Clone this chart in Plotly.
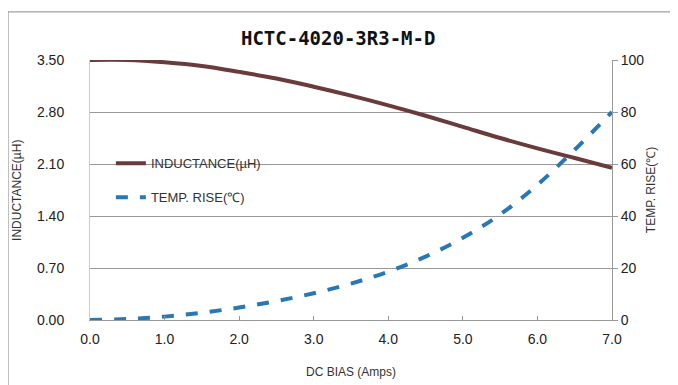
import plotly.graph_objects as go

dc_bias = [0.0, 0.5, 1.0, 1.5, 2.0, 2.5, 3.0, 3.5, 4.0, 4.5, 5.0, 5.5, 6.0, 6.5, 7.0]
inductance = [3.50, 3.50, 3.47, 3.42, 3.34, 3.25, 3.14, 3.02, 2.89, 2.75, 2.60, 2.45, 2.31, 2.18, 2.05]
temp_rise = [0.0, 0.4, 1.3, 2.8, 4.8, 7.3, 10.3, 14.0, 18.6, 24.4, 31.6, 40.6, 52.0, 65.5, 80.0]

y_left_ticks = [0.00, 0.70, 1.40, 2.10, 2.80, 3.50]
y_left_labels = ["0.00", "0.70", "1.40", "2.10", "2.80", "3.50"]
y_right_ticks = [0, 20, 40, 60, 80, 100]
x_ticks = [0, 1, 2, 3, 4, 5, 6, 7]
x_labels = ["0.0", "1.0", "2.0", "3.0", "4.0", "5.0", "6.0", "7.0"]

fig = go.Figure()
fig.add_trace(go.Scatter(x=dc_bias, y=inductance, name="INDUCTANCE(µH)", mode="lines",
                         legendgroup="a",
                         line=dict(color="#6a3b3b", width=4, shape="spline")))
fig.add_trace(go.Scatter(x=dc_bias, y=temp_rise, name="TEMP. RISE(℃)", mode="lines", yaxis="y2",
                         legendgroup="b",
                         line=dict(color="#2878b5", width=4, dash="dash", shape="spline")))

font_fam = "Liberation Sans Narrow, Arial Narrow, Liberation Sans, Arial"
tick_font = dict(family=font_fam, size=14, color="#222222")
title_font = dict(family=font_fam, size=12, color="#333333")

fig.update_layout(
    width=678, height=385,
    margin=dict(l=82, r=74, t=52, b=73, autoexpand=False),
    paper_bgcolor="white", plot_bgcolor="white",
    title=dict(text="<b>HCTC-4020-3R3-M-D</b>", x=0.487, xanchor="center", y=0.92, yanchor="middle",
               font=dict(family="DejaVu Sans Mono, monospace", size=19, color="#111111")),
    showlegend=True,
    legend=dict(x=0.04, y=0.66, xanchor="left", yanchor="top", bgcolor="rgba(255,255,255,0)",
                font=dict(family=font_fam, size=13, color="#333333"), tracegroupgap=14,
                traceorder="grouped"),
    xaxis=dict(range=[0, 7], tickvals=x_ticks, ticktext=x_labels, showgrid=False,
               showline=True, linecolor="#999999", linewidth=1, ticks="inside", ticklen=4,
               tickcolor="#999999", tickfont=tick_font, automargin=False, ticklabelstandoff=6),
    yaxis=dict(range=[0, 3.5], tickvals=y_left_ticks, ticktext=y_left_labels, showgrid=True,
               gridcolor="#999999", gridwidth=1, showline=True, linecolor="#cccccc",
               tickfont=tick_font, zeroline=False, automargin=False, ticklabelstandoff=22),
    yaxis2=dict(range=[0, 100], tickvals=y_right_ticks, overlaying="y", side="right",
                showgrid=False, showline=True, linecolor="#999999", ticks="outside", ticklen=5,
                tickcolor="#999999", zeroline=False, tickfont=tick_font, automargin=False),
    annotations=[
        dict(text="DC BIAS (Amps)", xref="paper", yref="paper", x=0.5, y=-0.2,
             xanchor="center", yanchor="middle", showarrow=False, font=title_font),
        dict(text="INDUCTANCE(µH)", xref="paper", yref="paper", x=-0.14, y=0.5,
             xanchor="center", yanchor="middle", textangle=-90, showarrow=False, font=title_font),
        dict(text="TEMP. RISE(℃)", xref="paper", yref="paper", x=1.075, y=0.5,
             xanchor="center", yanchor="middle", textangle=-90, showarrow=False, font=title_font),
    ],
    shapes=[dict(type="rect", xref="paper", yref="paper", x0=-0.157, x1=1.119, y0=-0.3, y1=1.185,
                 line=dict(color="#888888", width=1))],
)

fig.write_html("out.html")
